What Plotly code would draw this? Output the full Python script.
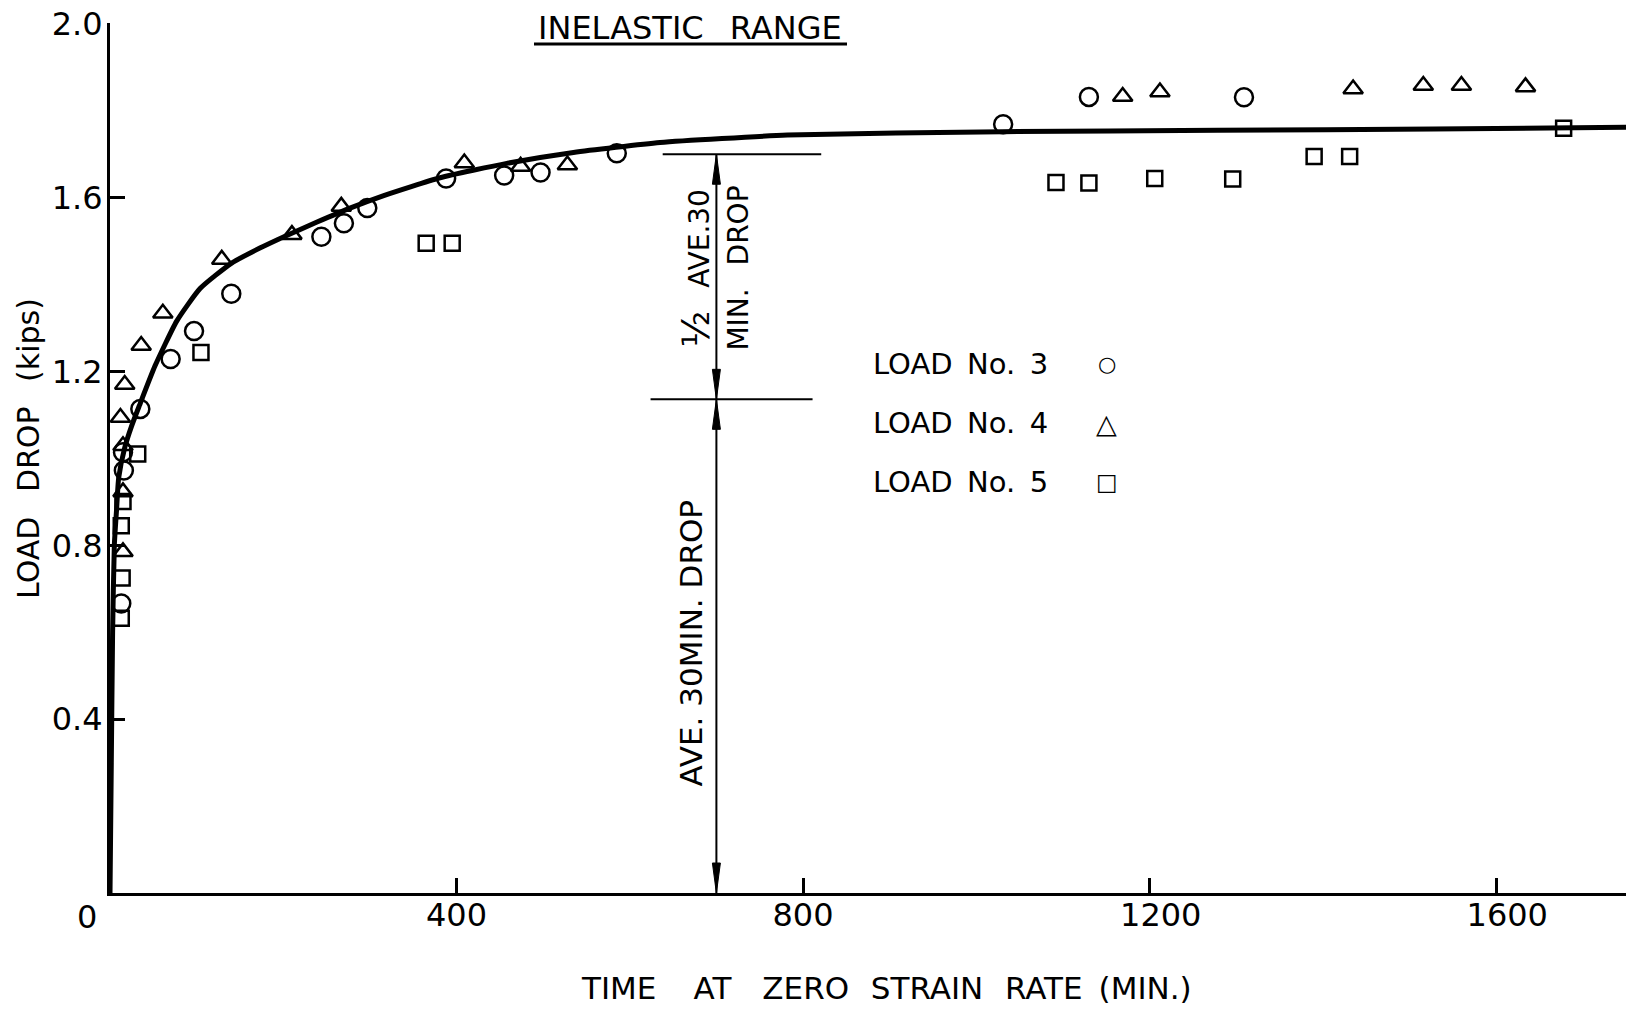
import plotly.graph_objects as go

# ---------------- data ----------------
load3_x = [13, 16, 15, 35, 70, 97, 140, 244, 270, 297, 388, 455, 497, 585, 1031, 1130, 1309]
load3_y = [0.666, 0.972, 1.014, 1.114, 1.229, 1.293, 1.379, 1.510, 1.541, 1.576, 1.644, 1.651,
           1.658, 1.702, 1.769, 1.832, 1.831]

load4_x = [15, 15, 15, 12, 17, 36, 61, 129, 210, 267, 409, 474, 528, 1169, 1212, 1435, 1516, 1560, 1634]
load4_y = [0.785, 0.923, 1.029, 1.094, 1.170, 1.260, 1.334, 1.458, 1.515, 1.580, 1.680, 1.672,
           1.675, 1.833, 1.843, 1.850, 1.858, 1.858, 1.855]

load5_x = [13, 14, 13, 15, 32, 105, 365, 395, 1092, 1130, 1206, 1296, 1390, 1431, 1678]
load5_y = [0.632, 0.725, 0.845, 0.901, 1.010, 1.244, 1.495, 1.495, 1.635, 1.634, 1.644, 1.643,
           1.695, 1.695, 1.760]

curve_x = [0, 1.5, 3, 5, 7.5, 10, 17, 25, 34, 52, 77, 104, 140, 173, 204, 239, 277, 316,
           381, 458, 535, 635, 782, 1030, 1279, 1528, 1750]
curve_y = [0, 0.3, 0.6, 0.8, 0.88, 0.955, 1.025, 1.075, 1.122, 1.213, 1.316, 1.391, 1.449,
           1.484, 1.513, 1.544, 1.576, 1.605, 1.646, 1.679, 1.704, 1.727, 1.744, 1.752, 1.755,
           1.758, 1.762]

x_tickvals = [400, 800, 1200, 1600]
x_ticktext = ["400", "800", "\u2002\u20091200", "\u2002\u20091600"]
y_tickvals = [0.4, 0.8, 1.2, 1.6, 2.0]
y_ticktext = ["0.4", "0.8", "1.2", "1.6", "2.0"]

series_names = ["LOAD No. 3", "LOAD No. 4", "LOAD No. 5"]
legend_glyphs = ["\u25CB", "\u25B3", "\u25A1"]
legend_glyph_sizes = [21, 27, 23]

# dimension marks (ave. 30 min drop)
DIM_X = 700
DIM_TOP = 1.70
DIM_MID = 1.136
DIM_TOP_SPAN = (638, 821)
DIM_MID_SPAN = (624, 811)

FONT = "DejaVu Sans"
OFF = 0                       # page body margin removed by post_script below
W, H = 1626 - OFF, 1009 - OFF
ML, MR, MT, MB = 110 - OFF, 0, 23 - OFF, 116

# helpers: window pixel -> paper fraction
px = lambda X: (X - OFF - ML) / (W - ML - MR)
py = lambda Y: (H - MB - (Y - OFF)) / (H - MT - MB)

# ---------------- figure ----------------
fig = go.Figure()

fig.add_trace(go.Scatter(x=curve_x, y=curve_y, mode="lines",
                         line=dict(color="black", width=5, shape="spline", smoothing=0.5),
                         showlegend=False, hoverinfo="skip"))

for xs, ys, sym, size, name in [
    (load3_x, load3_y, "circle-open", 18, series_names[0]),
    (load4_x, load4_y, "triangle-up-open", 17, series_names[1]),
    (load5_x, load5_y, "square-open", 15, series_names[2]),
]:
    fig.add_trace(go.Scatter(x=xs, y=ys, mode="markers", name=name,
                             marker=dict(symbol=sym, size=size, color="black",
                                         line=dict(width=2.5, color="black")),
                             showlegend=False))

shapes = []
shapes.append(dict(type="line", xref="x", yref="y", x0=DIM_X, x1=DIM_X, y0=0, y1=DIM_TOP,
                   line=dict(color="black", width=2)))
shapes.append(dict(type="line", xref="x", yref="y", x0=DIM_TOP_SPAN[0], x1=DIM_TOP_SPAN[1],
                   y0=DIM_TOP, y1=DIM_TOP, line=dict(color="black", width=2)))
shapes.append(dict(type="line", xref="x", yref="y", x0=DIM_MID_SPAN[0], x1=DIM_MID_SPAN[1],
                   y0=DIM_MID, y1=DIM_MID, line=dict(color="black", width=2)))
up_head = "M0,0 L-4,-30 L4,-30 Z"
down_head = "M0,0 L-4,30 L4,30 Z"
for yv, p in [(DIM_TOP, up_head), (DIM_MID, up_head), (DIM_MID, down_head), (0, down_head)]:
    shapes.append(dict(type="path", xref="x", yref="y", xsizemode="pixel", ysizemode="pixel",
                       xanchor=DIM_X, yanchor=yv, path=p, fillcolor="black",
                       line=dict(color="black", width=1)))

# title underline
shapes.append(dict(type="line", xref="paper", yref="paper", x0=px(534), x1=px(847),
                   y0=py(44), y1=py(44), line=dict(color="black", width=3)))

annotations = []
annotations.append(dict(text="INELASTIC\u2002 RANGE", xref="paper", yref="paper",
                        x=px(690), y=py(28), xanchor="center", yanchor="middle",
                        showarrow=False, font=dict(family=FONT, size=32, color="black")))
annotations.append(dict(text="0", xref="x", yref="y", x=0, y=0, xanchor="right", yanchor="top",
                        xshift=-11, yshift=-3, showarrow=False,
                        font=dict(family=FONT, size=32, color="black")))
# axis titles
annotations.append(dict(text="TIME\u2003\u2009AT\u2002\u2002ZERO\u2002\u2009STRAIN\u2002\u2009RATE \u2009(MIN.)",
                        xref="paper", yref="paper", x=px(886.5), y=py(988),
                        xanchor="center", yanchor="middle", showarrow=False,
                        font=dict(family=FONT, size=31, color="black")))
annotations.append(dict(text="LOAD\u2002 DROP\u2002 (kips)", xref="paper", yref="paper",
                        x=px(28), y=py(449), textangle=-90, xanchor="center", yanchor="middle",
                        showarrow=False, font=dict(family=FONT, size=30, color="black")))
# dimension texts
annotations.append(dict(text="<span style='font-size:38px'>\u00BD</span>\u2002 AVE.30",
                        xref="x", yref="y", x=677, y=1.438,
                        textangle=-90, showarrow=False, xanchor="center", yanchor="middle",
                        font=dict(family=FONT, size=28, color="black")))
annotations.append(dict(text="MIN.\u2002 DROP", xref="x", yref="y", x=725, y=1.437,
                        textangle=-90, showarrow=False, xanchor="center", yanchor="middle",
                        font=dict(family=FONT, size=28, color="black")))
annotations.append(dict(text="AVE. 30MIN. DROP", xref="x", yref="y", x=671, y=0.575,
                        textangle=-90, showarrow=False, xanchor="center", yanchor="middle",
                        font=dict(family=FONT, size=31, color="black")))
# legend
for i, (nm, g, gs) in enumerate(zip(series_names, legend_glyphs, legend_glyph_sizes)):
    yy = [364, 423, 482][i]
    annotations.append(dict(text=nm.replace(" No. ", "\u2002No.\u2002"),
                            xref="paper", yref="paper", x=px(871), y=py(yy),
                            xanchor="left", yanchor="middle", showarrow=False,
                            font=dict(family=FONT, size=29, color="black")))
    annotations.append(dict(text=g, xref="paper", yref="paper", x=px(1106.5), y=py(yy),
                            xanchor="center", yanchor="middle", showarrow=False,
                            font=dict(family=FONT, size=gs, color="black")))

axis_common = dict(showline=True, linecolor="black", linewidth=3, ticks="inside", ticklen=15,
                   tickwidth=2.5, tickcolor="black", showgrid=False, zeroline=False,
                   ticklabeloverflow="allow", automargin=False,
                   tickfont=dict(family=FONT, size=32, color="black"))

fig.update_layout(
    width=W, height=H, margin=dict(l=ML, r=MR, t=MT, b=MB, autoexpand=False),
    paper_bgcolor="white", plot_bgcolor="white",
    shapes=shapes, annotations=annotations, showlegend=False,
    xaxis=dict(range=[0, 1750], tickvals=x_tickvals, ticktext=x_ticktext,
               ticklabelstandoff=-8, **axis_common),
    yaxis=dict(range=[0, 2.002], tickvals=y_tickvals, ticktext=y_ticktext,
               ticklabelstandoff=-2, **axis_common),
)

fig.write_html("out.html", config={"displayModeBar": False},
               post_script="document.body.style.margin='0px';")
